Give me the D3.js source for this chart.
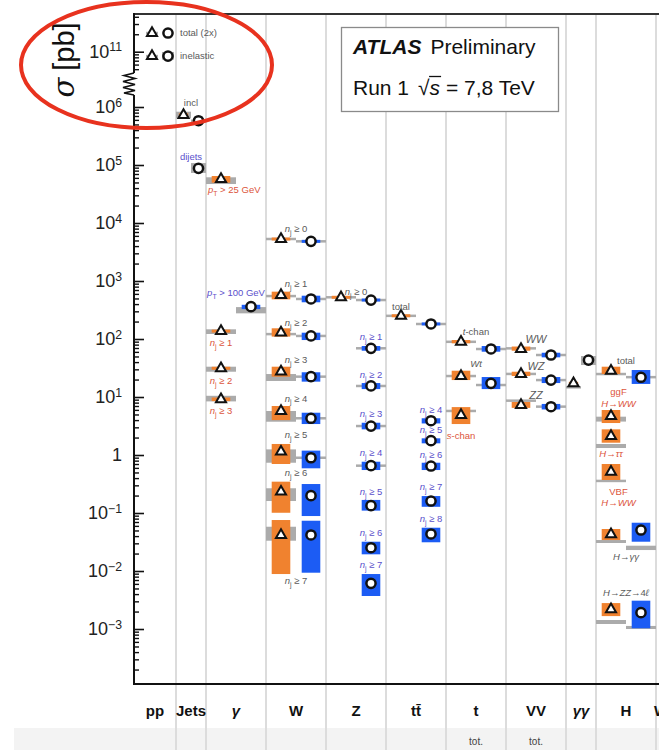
<!DOCTYPE html>
<html><head><meta charset="utf-8">
<script src="https://cdn.jsdelivr.net/npm/d3@7"></script>
<style>
html,body{margin:0;padding:0;background:#fff;}
svg{display:block;font-family:"Liberation Sans",Arial,sans-serif;}
</style></head><body>
<svg id="c" width="659" height="750"></svg>
<script>
// ---------------- DATA ----------------
const categories = ["pp","Jets","γ","W","Z","tt̄","t","VV","γγ","H","Wγ"];
const subLabels  = ["","","","","","","tot.","tot.","","",""];

// point rows: [energy (7 = triangle, 8 = circle), value pb, exp lo, exp hi, theory lo, theory hi]
const ppPoints = [
  [7, 2.1e11, null, null, 2.1e11, 2.1e11],
  [8, 2.1e11, null, null, null, null],
  [7, 8.4e10, null, null, 8.4e10, 8.4e10],
  [8, 8.4e10, null, null, 7.3e10, 9.9e10]
];
const jetPoints = [
  [7, 7.28e5, 6.8e5, 7.8e5, 6.4e5, 8.3e5],
  [8, 5.8e5, 5.6e5, 6.0e5, 5.75e5, 5.85e5],
  [8, 8.77e4, 8.5e4, 9.05e4, 7.3e4, 1.08e5]
];
const photonPoints = [
  [7, 5.74e4, 4.95e4, 6.46e4, 4.7e4, 6.14e4],
  [8, 361, 328, 389, 277, 355],
  [7, 137, 131, 143, 122, 147],
  [7, 31.3, 29.5, 33.2, 27.3, 33.3],
  [7, 9.1, 8.5, 9.8, 8.4, 10.5]
];
const wPoints = [
  [7, 5300, 5150, 5450, 5230, 5370], [8, 4830, 4700, 4960, 4770, 4890],
  [7, 574, 483, 655, 540, 560],      [8, 490, 430, 558, 482, 498],
  [7, 128.5, 110, 153, 119, 124],    [8, 113, 96, 128.5, 110, 116],
  [7, 27.4, 22.4, 33.3, 18.9, 24.9], [8, 22.4, 18.4, 26.7, 22, 22.9],
  [7, 5.74, 4.0, 7.0, 3.75, 5.74],   [8, 4.3, 3.42, 5.36, 4.2, 4.4],
  [7, 1.14, 0.70, 1.55, 0.736, 1.25],[8, 0.897, 0.59, 1.19, 0.88, 0.915],
  [7, 0.233, 0.101, 0.347, 0.161, 0.267], [8, 0.199, 0.0887, 0.316, null, null],
  [7, 0.0418, 0.00887, 0.0757, 0.0333, 0.058], [8, 0.0418, 0.00935, 0.0736, null, null]
];
const zPoints = [
  [7, 524, 510, 538, 515, 533], [8, 470, 458, 482, 462, 478],
  [8, 69.2, 62.8, 75.7, 68, 70.4],
  [8, 15.5, 13.7, 17.4, 15.2, 15.8],
  [8, 3.16, 2.77, 3.6, 3.1, 3.22],
  [8, 0.655, 0.551, 0.766, 0.645, 0.665],
  [8, 0.134, 0.11, 0.168, null, null],
  [8, 0.0252, 0.0194, 0.032, null, null],
  [8, 0.00614, 0.00371, 0.00887, null, null]
];
const ttPoints = [
  [7, 252, 244, 260, 246, 256],
  [8, 181.6, 176, 188, 178, 185],
  [8, 3.9, 3.5, 4.3, null, null],
  [8, 1.77, 1.59, 1.94, null, null],
  [8, 0.646, 0.551, 0.736, null, null],
  [8, 0.161, 0.128, 0.196, null, null],
  [8, 0.0435, 0.0313, 0.0558, null, null]
];
const topPoints = [
  [7, 89.8, 84.3, 96, 87, 92],
  [8, 67.3, 60.4, 75.7, 65.5, 69],
  [7, 23.0, 19.6, 28.4, 22.5, 23.5],
  [8, 17.2, 13.7, 22.1, 15.8, 16.4],
  [7, 4.9, 3.42, 6.7, 5.6, 5.9]
];
const vvPoints = [
  [7, 67.3, 62.8, 74.2, 68, 70],  [8, 53.0, 48.3, 58.0, 52, 54],
  [7, 24.9, 23.0, 27.3, 24.5, 25.5], [8, 19.6, 17.4, 22.1, 19.2, 20],
  [7, 7.28, 6.5, 8.2, 8.5, 8.8],  [8, 6.8, 6.1, 7.6, 6.7, 6.95]
];
const aaPoints = [
  [8, 43.4, 41.5, 45.5, 35.6, 50.9],
  [7, 17.2, 16.5, 18, 14.4, 15]
];
const higgsPoints = [
  [7, 28.4, 24.9, 33.3, 24.5, 25.3],
  [8, 21.9, 16.8, 29.2, 21.5, 22.5],
  [7, 4.70, 3.56, 5.97, 3.77, 4.58],
  [7, 2.13, 1.63, 2.77, 1.32, 1.55],
  [7, 0.515, 0.371, 0.70, 0.35, 0.365],
  [7, 0.043, 0.0342, 0.053, 0.0304, 0.0342],
  [8, 0.0509, 0.032, 0.068, 0.023, 0.0273],
  [7, 0.00219, 0.00167, 0.0028, 0.00122, 0.00143],
  [8, 0.00191, 0.00103, 0.00308, 0.001, 0.00113]
];

// annotation rows: [text, anchor, value pb, colour key]
const ppLabels = [["total (2x)","r",2.1e11,"g"],["inelastic","r",8.4e10,"g"]];
const jetLabels = [["incl","c",1.17e6,"g"],["dijets","c",1.37e5,"b"]];
const photonLabels = [["p_T > 25 GeV","l",3.7e4,"r"],["p_T > 100 GeV","c",621,"b"],
  ["n_j ≥ 1","7",85.3,"r"],["n_j ≥ 2","7",18.9,"r"],["n_j ≥ 3","7",5.74,"r"]];
const wLabels = [["n_j ≥ 0","c",7890,"g"],["n_j ≥ 1","c",887,"g"],["n_j ≥ 2","c",191,"g"],
  ["n_j ≥ 3","c",43.4,"g"],["n_j ≥ 4","c",9.5,"g"],["n_j ≥ 5","c",2.21,"g"],
  ["n_j ≥ 6","c",0.495,"g"],["n_j ≥ 7","c",0.00673,"g"]];
const zLabels = [["n_j ≥ 0","c",655,"g"],["n_j ≥ 1","8",108,"b"],["n_j ≥ 2","8",23.9,"b"],
  ["n_j ≥ 3","8",5.09,"b"],["n_j ≥ 4","8",1.1,"b"],["n_j ≥ 5","8",0.23,"b"],
  ["n_j ≥ 6","8",0.0452,"b"],["n_j ≥ 7","8",0.0127,"b"]];
const ttLabels = [["total","7",356,"g"],["n_j ≥ 4","8",5.97,"b"],["n_j ≥ 5","8",2.7,"b"],
  ["n_j ≥ 6","8",1.0,"b"],["n_j ≥ 7","8",0.281,"b"],["n_j ≥ 8","8",0.0788,"b"]];
const topLabels = [["*t*-chan","c",134,"g"],["*Wt*","c",38.1,"g"],["*s*-chan","7",2.13,"r"]];
const vvLabels = [["*WW*","c",100,"g"],["*WZ*","c",34.6,"g"],["*ZZ*","c",10.8,"g"]];
const higgsLabels = [["total","c",41.8,"g"],["ggF","7c",12.2,"r"],["*H*→*WW*","7c",7.57,"r"],
  ["*H*→*ττ*","7",1.04,"r"],["VBF","7c",0.23,"r"],["*H*→*WW*","7c",0.149,"r"],
  ["*H*→*γγ*","c",0.0177,"g"],["*H*→*ZZ*→4*ℓ*","c",0.00418,"g"]];

const lowMajorTicks = [1e-3,1e-2,1e-1,1,1e1,1e2,1e3,1e4,1e5,1e6];
const topMajorTicks = [1e11];

// ---------------- LAYOUT ----------------
const svg = d3.select('#c');
const X0 = 134, UNIT = 30;
const catUnits = [1.4,1,2,2,2,2,2,2,1,2,0.6];
const catStart = []; { let a = 0; catUnits.forEach(u => { catStart.push(a); a += u; }); }
const x = d3.scaleLinear().domain([0,1]).range([X0, X0+UNIT]);
const yLow = d3.scaleLog().domain([Math.pow(10,-3.948), Math.pow(10,6.207)]).range([684,95]);
const yTop = d3.scaleLog().domain([Math.pow(10,10.633), Math.pow(10,11.65)]).range([73,14]);

const COL = {orange:"#f0822f", blue:"#1c5cf4", theory:"#ababab",
  g:"#5a5a5a", r:"#dc553c", b:"#5a50cc"};

function slotU(ci){ return ci===0 ? 0.4 : (catUnits[ci] < 2 ? 0.5 : 1); }
function markerU(ci,e){
  if (ci===0) return catStart[0] + (e===7 ? 0.6 : 1.133);
  const s = slotU(ci);
  return catStart[ci] + s*(e===7 ? 0.5 : 1.5);
}
function anchorX(ci,a){
  const c = catStart[ci] + catUnits[ci]/2;
  if (a==='7') return x(markerU(ci,7));
  if (a==='8') return x(markerU(ci,8));
  if (a==='7c') return (x(markerU(ci,7)) + x(c))/2;
  if (a==='l') return x(catStart[ci]) + 2;
  if (a==='r') return x(catStart[ci]+catUnits[ci]) + 4;
  return x(c);
}

// background band at bottom
svg.append('rect').attr('x',14).attr('y',728).attr('width',645).attr('height',22).attr('fill','#f3f3f3');

// vertical grid lines at category boundaries
svg.append('g').selectAll('line').data(catStart.slice(1)).join('line')
  .attr('x1',d=>x(d)).attr('x2',d=>x(d)).attr('y1',14).attr('y2',750)
  .attr('stroke','#dcdcdc').attr('stroke-width',2);

// top frame + axes lines
svg.append('line').attr('x1',133).attr('x2',659).attr('y1',14).attr('y2',14).attr('stroke','#333').attr('stroke-width',2.2);
svg.append('line').attr('x1',133).attr('x2',659).attr('y1',684).attr('y2',684).attr('stroke','#111').attr('stroke-width',2);
svg.append('line').attr('x1',X0).attr('x2',X0).attr('y1',13).attr('y2',73).attr('stroke','#111').attr('stroke-width',2);
svg.append('line').attr('x1',X0).attr('x2',X0).attr('y1',95).attr('y2',685).attr('stroke','#111').attr('stroke-width',2);
// axis break zig-zag
svg.append('path').attr('d','M134,73 L124,75.5 L135,78.5 L123,81.5 L135,84.5 L123,87.5 L135,90.5 L124,93 L134,95')
  .attr('fill','none').attr('stroke','#111').attr('stroke-width',1.6);

// ticks
function minorTicks(scale){
  const [a,b] = scale.domain(); const out = [];
  for (let p = Math.floor(Math.log10(a)); p <= Math.ceil(Math.log10(b)); p++)
    for (let k = 2; k <= 9; k++){ const v = k*Math.pow(10,p); if (v>=a && v<=b) out.push(v); }
  return out;
}
function fmtTicks(sel){
  sel.selectAll('.tick text').each(function(d){
    const t = d3.select(this); t.text(null);
    const p = Math.round(Math.log10(d));
    if (p===0) { t.text('1'); return; }
    t.append('tspan').text('10');
    t.append('tspan').attr('dy','-0.55em').attr('font-size','0.68em').text(p<0 ? '−'+(-p) : String(p));
  });
}
[[yLow, lowMajorTicks],[yTop, topMajorTicks]].forEach(([sc, majors]) => {
  const gMin = svg.append('g').attr('transform',`translate(${X0},0)`)
    .call(d3.axisLeft(sc).tickValues(minorTicks(sc)).tickSize(-5).tickFormat(''));
  gMin.select('.domain').remove();
  gMin.selectAll('line').attr('stroke','#111').attr('stroke-width',1.4);
  const gMaj = svg.append('g').attr('transform',`translate(${X0},0)`)
    .call(d3.axisLeft(sc).tickValues(majors).tickSize(-10).tickPadding(12));
  gMaj.select('.domain').remove();
  gMaj.selectAll('line').attr('stroke','#111').attr('stroke-width',1.6);
  gMaj.selectAll('text').attr('font-family','"Liberation Sans",Arial,sans-serif').attr('font-size',18).attr('fill','#222');
  fmtTicks(gMaj);
});

// y title
const yt = svg.append('text').attr('transform','translate(74,60) rotate(-90)')
  .attr('text-anchor','middle').attr('font-size',29).attr('fill','#111');
yt.append('tspan').attr('font-style','italic').attr('font-family','"DejaVu Serif",serif').text('σ');
yt.append('tspan').attr('dx',7).text('[pb]');

// data sets
const sets = [
  [0, ppPoints, ppLabels, yTop], [1, jetPoints, jetLabels, yLow], [2, photonPoints, photonLabels, yLow],
  [3, wPoints, wLabels, yLow], [4, zPoints, zLabels, yLow], [5, ttPoints, ttLabels, yLow],
  [6, topPoints, topLabels, yLow], [7, vvPoints, vvLabels, yLow], [8, aaPoints, [], yLow],
  [9, higgsPoints, higgsLabels, yLow]
];
const gTh = svg.append('g'), gEx = svg.append('g'), gMk = svg.append('g'), gLb = svg.append('g');
const triangle = d3.symbol().type(d3.symbolTriangle).size(44);

sets.forEach(([ci, pts, lbls, ys]) => {
  const sw = slotU(ci)*UNIT;
  pts.forEach(([e,v,lo,hi,tlo,thi]) => {
    const mx = x(markerU(ci,e));
    if (tlo != null){
      const y1 = ys(thi), y2 = ys(tlo), h = Math.max(y2-y1, 2.5), yc = (y1+y2)/2;
      gTh.append('rect').attr('x',mx-sw/2).attr('y',yc-h/2).attr('width',sw).attr('height',h).attr('fill',COL.theory);
    }
    if (lo != null){
      const ew = sw*0.62;
      const y1 = ys(hi), y2 = ys(lo), h = Math.max(y2-y1, 3), yc = (y1+y2)/2;
      gEx.append('rect').attr('x',mx-ew/2).attr('y',yc-h/2).attr('width',ew).attr('height',h)
        .attr('fill', e===7 ? COL.orange : COL.blue);
    }
    if (e===7){
      gMk.append('path').attr('d',triangle()).attr('transform',`translate(${mx},${ys(v)})`)
        .attr('fill','#fff').attr('stroke','#111').attr('stroke-width',2);
    } else {
      gMk.append('circle').attr('cx',mx).attr('cy',ys(v)).attr('r',4.6)
        .attr('fill','#fff').attr('stroke','#111').attr('stroke-width',2.5);
    }
  });
  lbls.forEach(([txt, a, v, c]) => {
    const fs = (ci===7) ? 11 : 9.5;
    const t = gLb.append('text').attr('x',anchorX(ci,a)).attr('y',ys(v)+fs*0.35)
      .attr('font-size',fs).attr('fill',COL[c])
      .attr('text-anchor',(a==='l'||a==='r') ? 'start' : 'middle');
    rich(t, txt, fs);
  });
});

function rich(t, s, fs){
  const re = /(\*[^*]+\*|n_j|p_T)/g;
  let lowered = false;
  s.split(re).filter(Boolean).forEach(p => {
    if (p==='n_j' || p==='p_T'){
      const a = t.append('tspan').attr('font-style','italic').text(p[0]);
      if (lowered){ a.attr('dy', -0.28*fs); lowered=false; }
      t.append('tspan').attr('font-size',fs*0.72).attr('dy',0.28*fs).text(p[2]);
      lowered = true;
    } else {
      const it = p[0]==='*';
      const a = t.append('tspan').text(it ? p.slice(1,-1) : p);
      if (it) a.attr('font-style','italic');
      if (lowered){ a.attr('dy', -0.28*fs); lowered=false; }
    }
  });
}

// category labels
svg.append('g').selectAll('text').data(categories).join('text')
  .attr('x',(d,i)=>x(catStart[i]+catUnits[i]/2))
  .attr('y',716).attr('text-anchor',(d,i)=> i===10 ? 'start' : 'middle')
  .attr('dx',(d,i)=> i===10 ? -11 : 0)
  .attr('font-size',15).attr('font-weight','bold').attr('fill','#111')
  .attr('font-style',d => d.includes('γ') && d!=='Wγ' ? 'italic' : null)
  .text(d=>d);
svg.append('g').selectAll('text').data(subLabels).join('text')
  .attr('x',(d,i)=>x(catStart[i]+catUnits[i]/2)).attr('y',745)
  .attr('text-anchor','middle').attr('font-size',10).attr('fill','#444').text(d=>d);

// ATLAS box
svg.append('rect').attr('x',341.5).attr('y',27.5).attr('width',217).attr('height',84)
  .attr('fill','#fff').attr('stroke','#8a8a8a').attr('stroke-width',1.3);
const t1 = svg.append('text').attr('x',353).attr('y',54).attr('font-size',21).attr('fill','#111');
t1.append('tspan').attr('font-weight','bold').attr('font-style','italic').text('ATLAS');
t1.append('tspan').attr('dx',9).text('Preliminary');
const t2 = svg.append('text').attr('x',353).attr('y',95).attr('font-size',21).attr('fill','#111');
t2.append('tspan').text('Run 1');
t2.append('tspan').attr('dx',9).text('√');
t2.append('tspan').attr('font-style','italic').text('s');
t2.append('tspan').text(' = 7,8 TeV');
{
  const n = t2.node();
  const rootEnd = n.getEndPositionOfChar(5).x;
  const sEnd = n.getEndPositionOfChar(6).x;
  svg.append('line').attr('x1',rootEnd - 0.5).attr('x2',sEnd + 1)
    .attr('y1',95-18.5).attr('y2',95-18.5).attr('stroke','#111').attr('stroke-width',1.3);
}

// red highlight ellipse
svg.append('ellipse').attr('cx',146.5).attr('cy',65).attr('rx',125.5).attr('ry',63)
  .attr('fill','none').attr('stroke','#e8321e').attr('stroke-width',4);
</script>
</body></html>
